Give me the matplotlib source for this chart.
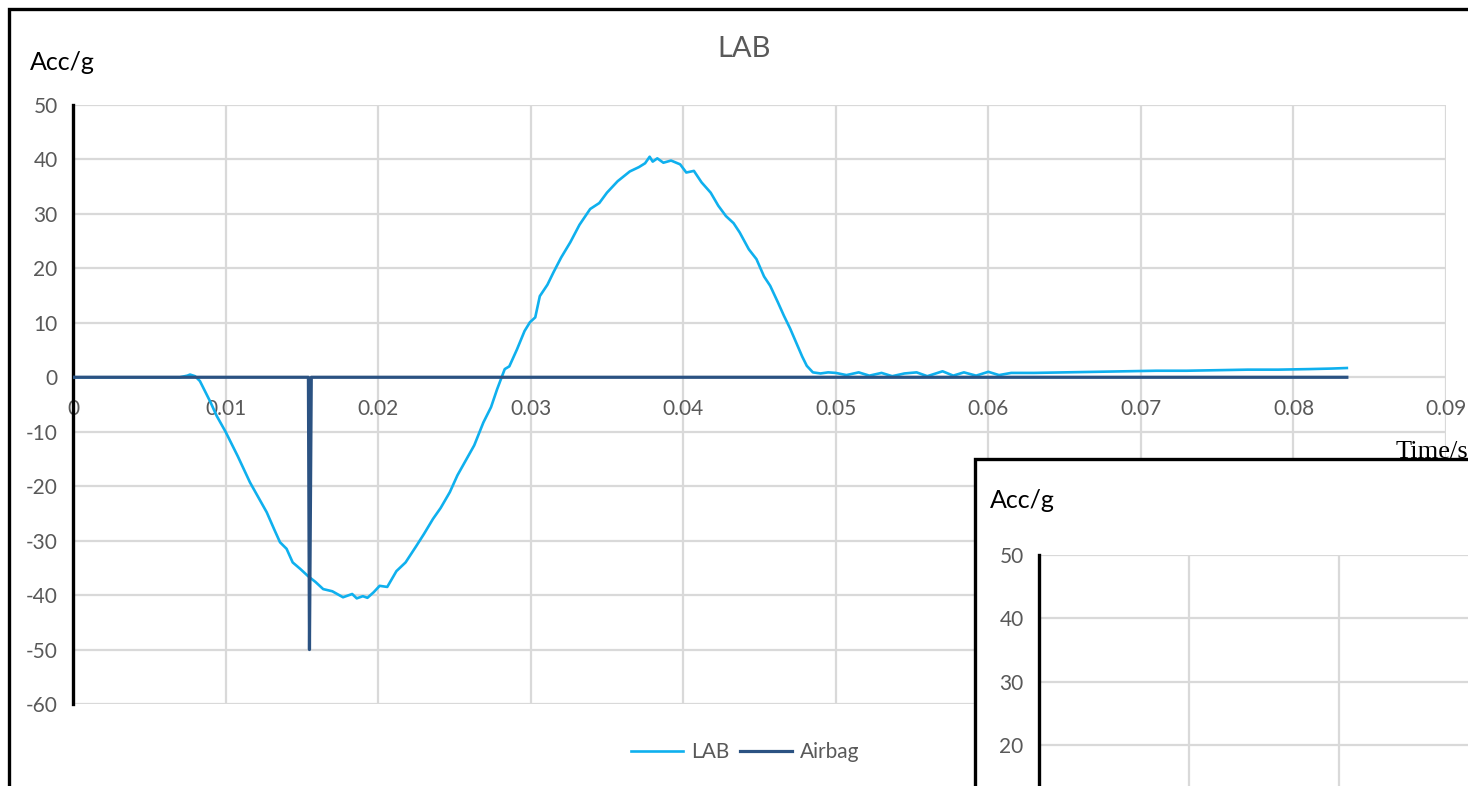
import matplotlib.pyplot as plt
from matplotlib.patches import Rectangle

# LAB acceleration trace
lab_t = [0, 0.0070, 0.0075, 0.00767, 0.0080, 0.00832, 0.0090, 0.00942, 0.0100, 0.0108,
         0.0116, 0.0122, 0.0127, 0.0132, 0.01357, 0.0140, 0.0144, 0.0149, 0.0154, 0.0159,
         0.0164, 0.0170, 0.0177, 0.0183, 0.0186, 0.0190, 0.0193, 0.0197, 0.0201, 0.0206,
         0.0212, 0.0218, 0.0225, 0.0230, 0.0236, 0.0241, 0.0247, 0.0252, 0.0258, 0.0263,
         0.0269, 0.0274, 0.0278, 0.0283, 0.0286, 0.0291, 0.0296, 0.02995, 0.0303, 0.0306,
         0.0311, 0.0315, 0.0320, 0.0326, 0.0332, 0.0339, 0.0345, 0.0350, 0.0357, 0.0365,
         0.0371, 0.0375, 0.0378, 0.0380, 0.0383, 0.0387, 0.0392, 0.0398, 0.0402, 0.0407,
         0.0412, 0.0418, 0.0423, 0.0428, 0.0433, 0.0437, 0.0443, 0.0448, 0.0453, 0.0457,
         0.0462, 0.0466, 0.0470, 0.0474, 0.0478, 0.0481, 0.0485, 0.0490, 0.0495, 0.0500,
         0.0507, 0.0515, 0.0522, 0.0530, 0.0537, 0.0545, 0.0553, 0.0560, 0.0570, 0.0577,
         0.0584, 0.0592, 0.0600, 0.0607, 0.0615, 0.0630, 0.0650, 0.0670, 0.0690, 0.0710,
         0.0730, 0.0750, 0.0770, 0.0790, 0.0810, 0.0825, 0.0835]
lab_acc = [0, 0, 0.3, 0.5, 0.2, -0.7, -4.5, -7.1, -10, -14.5,
           -19.3, -22.3, -24.8, -28, -30.3, -31.5, -34, -35.2, -36.5, -37.6,
           -38.9, -39.3, -40.4, -39.8, -40.6, -40.2, -40.5, -39.5, -38.3, -38.5,
           -35.6, -34, -31, -28.8, -26, -24, -21.1, -18, -15, -12.5,
           -8.3, -5.5, -2.2, 1.5, 2.0, 5.1, 8.5, 10.1, 11, 14.9,
           17, 19.3, 22, 24.8, 28, 30.9, 32, 33.9, 36, 37.8,
           38.6, 39.3, 40.5, 39.6, 40.2, 39.4, 39.8, 39.1, 37.6, 37.9,
           35.8, 33.9, 31.5, 29.6, 28.3, 26.6, 23.5, 21.7, 18.5, 16.8,
           13.8, 11.3, 9, 6.4, 3.8, 2.1, 0.9, 0.7, 0.9, 0.8,
           0.4, 0.9, 0.3, 0.8, 0.2, 0.7, 0.9, 0.2, 1.1, 0.3,
           0.9, 0.3, 1.0, 0.4, 0.8, 0.8, 0.9, 1.0, 1.1, 1.2,
           1.2, 1.3, 1.4, 1.4, 1.5, 1.6, 1.7]

# Airbag trigger signal
airbag_t = [0, 0.01543, 0.01550, 0.01562, 0.0835]
airbag_acc = [0, 0, -50, 0, 0]

x_ticks = [0, 0.01, 0.02, 0.03, 0.04, 0.05, 0.06, 0.07, 0.08, 0.09]
x_labels = ['0', '0.01', '0.02', '0.03', '0.04', '0.05', '0.06', '0.07', '0.08', '0.09']
y_ticks = [-60, -50, -40, -30, -20, -10, 0, 10, 20, 30, 40, 50]
# second chart, only its upper part is visible
inset_y_ticks = [20, 30, 40, 50]
inset_x_ticks = [0, 0.01, 0.02, 0.03]

GRID = '#d9d9d9'
TXT = '#595959'

plt.rcParams['font.family'] = ['Lato', 'DejaVu Sans']
plt.rcParams['axes.unicode_minus'] = False

W, H = 1468, 786
fig = plt.figure(figsize=(W / 100, H / 100), dpi=100)


def fx(px):
    return px / W


def fy(py):
    return 1 - py / H


def style_axes(ax, yticks, fontsize=15):
    for s in ['top', 'right', 'bottom']:
        ax.spines[s].set_visible(False)
    ax.spines['left'].set_linewidth(2.4)
    ax.spines['left'].set_color('black')
    ax.set_yticks(yticks)
    ax.grid(True, color=GRID, linewidth=1.6)
    ax.set_axisbelow(True)
    ax.tick_params(axis='y', length=0, pad=11, labelsize=fontsize, labelcolor=TXT)


# main chart
ax = fig.add_axes([fx(73), fy(704), fx(1446) - fx(73), fy(105) - fy(704)])
ax.set_xlim(0, 0.09)
ax.set_ylim(-60, 50)
style_axes(ax, y_ticks)
ax.set_xticks(x_ticks)
ax.set_xticklabels(x_labels)
ax.spines['bottom'].set_position(('data', 0))
ax.tick_params(axis='x', length=0, pad=16, labelsize=15, labelcolor=TXT)

ax.plot(lab_t, lab_acc, color='#0fb0ee', linewidth=1.9, label='LAB', zorder=3)
ax.plot(airbag_t, airbag_acc, color='#2b5282', linewidth=2.3, label='Airbag', zorder=4)
ax.legend(loc='center', bbox_to_anchor=(fx(745), fy(752)), bbox_transform=fig.transFigure,
          ncol=2, frameon=False, fontsize=15, labelcolor=TXT, handlelength=2.5,
          handletextpad=0.4, columnspacing=0.5)

fig.text(fx(744), fy(49), 'LAB', fontsize=21, color=TXT, ha='center', va='center')
fig.text(fx(30), fy(62), 'Acc/g', fontsize=18, color='black', va='center', ha='left')
fig.text(fx(1396), fy(458), 'Time/s', fontsize=19, family='Liberation Serif',
         color='black', va='baseline', ha='left', zorder=1)

# outer frame
fig.patches.append(Rectangle((fx(9), -0.2), 2, fy(9) + 0.2, transform=fig.transFigure,
                             fill=False, edgecolor='black', linewidth=2.4, zorder=10))

# second chart peeking in at the lower right
fig.patches.append(Rectangle((fx(975), -0.2), 1, fy(459) + 0.2, transform=fig.transFigure,
                             facecolor='white', edgecolor='black', linewidth=2.4, zorder=5))
ax2 = fig.add_axes([fx(1039), fy(555 + 4 * 63.3), 450 / W, 4 * 63.3 / H], zorder=6)
ax2.set_xlim(0, 0.03)
ax2.set_ylim(10, 50)
style_axes(ax2, inset_y_ticks)
ax2.set_xticks(inset_x_ticks)
ax2.tick_params(axis='x', length=0, labelbottom=False)
ax2.patch.set_alpha(0)
fig.text(fx(990), fy(500), 'Acc/g', fontsize=18, color='black', va='center', ha='left', zorder=7)

fig.savefig('out.png', dpi=100)
